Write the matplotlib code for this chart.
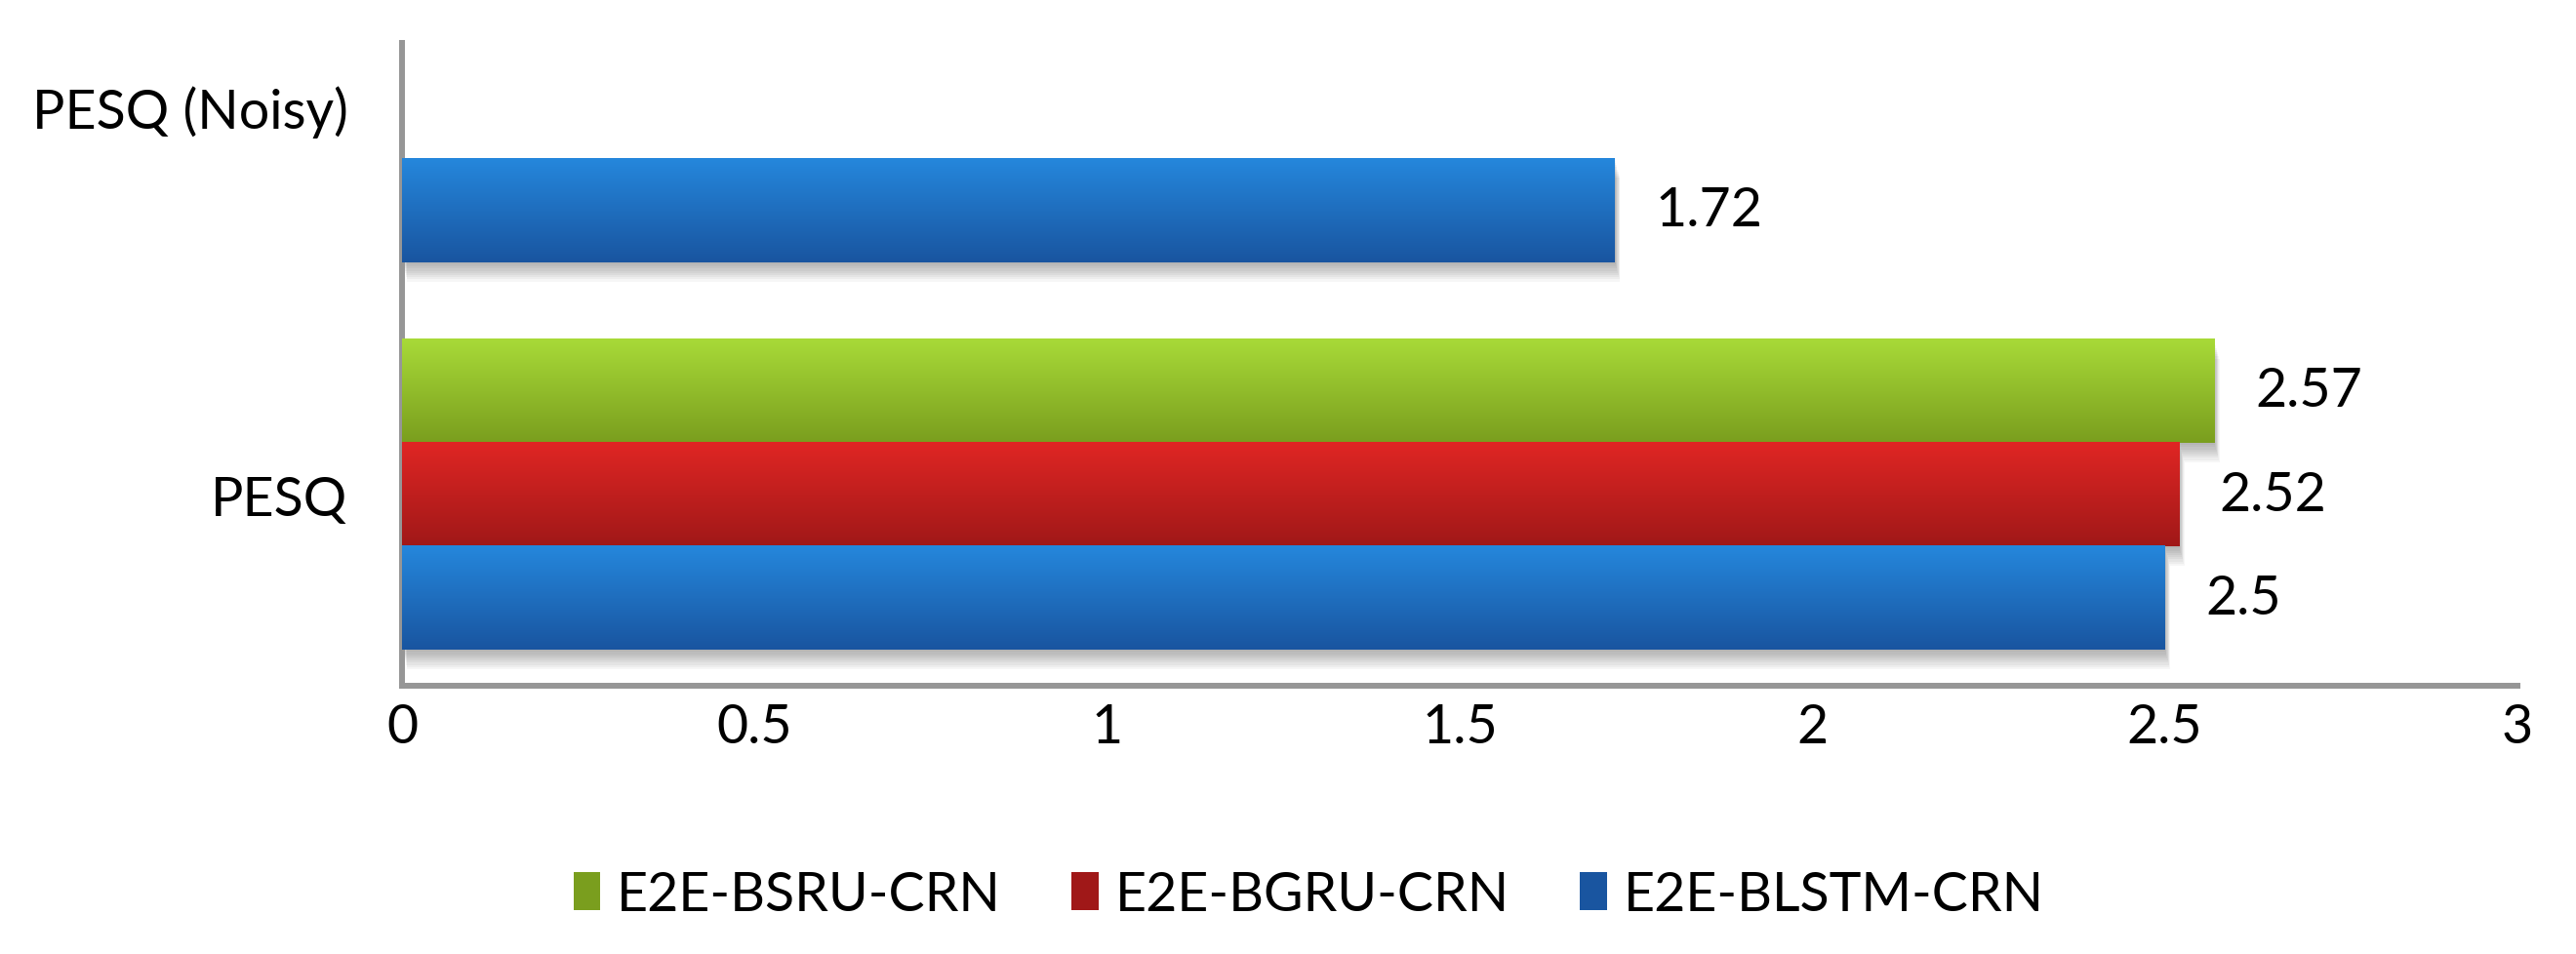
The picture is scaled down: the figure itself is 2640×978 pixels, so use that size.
import numpy as np
import matplotlib
matplotlib.use('Agg')
import matplotlib.pyplot as plt
from matplotlib.colors import LinearSegmentedColormap
from matplotlib.patches import Rectangle, Patch

categories = ['PESQ', 'PESQ (Noisy)']
series = ['E2E-BSRU-CRN', 'E2E-BGRU-CRN', 'E2E-BLSTM-CRN']
bsru = [2.57, np.nan]
bgru = [2.52, np.nan]
blstm = [2.5, 1.72]
xticks = [0, 0.5, 1, 1.5, 2, 2.5, 3]

# gradient colours (top, bottom) for each series
grad = {
    'E2E-BSRU-CRN': ('#A8DA38', '#7A9E1E'),
    'E2E-BGRU-CRN': ('#E02624', '#A01818'),
    'E2E-BLSTM-CRN': ('#2587DC', '#1955A0'),
}

plt.rcParams['font.family'] = ['Lato', 'DejaVu Sans']

fig = plt.figure(figsize=(26.4, 9.79), dpi=100)
ax = fig.add_axes([412 / 2640, 1 - 704 / 979, (2580 - 412) / 2640, (704 - 45) / 979])

h = 0.267
ypos = np.arange(len(categories))
offsets = [h, 0, -h]
px = 1.658 / 659  # data units per pixel (vertical)
pxx = 3.0 / (2580 - 412)

for name, vals, off in zip(series, [bsru, bgru, blstm], offsets):
    bars = ax.barh(ypos + off, vals, height=h, color='none', edgecolor='none', zorder=3)
    top, bot = grad[name]
    cmap = LinearSegmentedColormap.from_list(name, [bot, top])
    for b, v in zip(bars, vals):
        if np.isnan(v):
            continue
        x0, y0 = b.get_x(), b.get_y()
        w, hh = b.get_width(), b.get_height()
        g = np.linspace(0, 1, 128).reshape(-1, 1)
        ax.imshow(g, cmap=cmap, extent=(x0, x0 + w, y0, y0 + hh), origin='lower',
                  aspect='auto', zorder=3, interpolation='bicubic')
        # soft drop shadow
        for k in range(1, 10):
            ax.add_patch(Rectangle((x0 + k * 0.6 * pxx, y0 - k * 2.2 * px), w, hh,
                                   facecolor='black', edgecolor='none', alpha=0.035, zorder=2))
    ax.bar_label(bars, labels=['' if np.isnan(v) else f'{v:g}' for v in vals],
                 padding=30, fontsize=40, zorder=4)

ax.set_xlim(0, 3)
ax.set_ylim(-0.493, 1.165)
ax.set_xticks(xticks)
ax.set_xticklabels([f'{t:g}' for t in xticks])
ax.set_yticks(ypos)
ax.set_yticklabels(categories)
ax.tick_params(axis='both', length=0, labelsize=40)
ax.tick_params(axis='x', pad=12)
ax.tick_params(axis='y', pad=40)
for s in ['top', 'right']:
    ax.spines[s].set_visible(False)
for s in ['left', 'bottom']:
    ax.spines[s].set_color('#969696')
    ax.spines[s].set_linewidth(4.3)

handles = [Patch(facecolor=grad[n][1], edgecolor='none') for n in series]
fig.legend(handles, series, loc='center', bbox_to_anchor=(0.508, 0.062), ncol=3,
           frameon=False, fontsize=40,
           handlelength=0.5, handleheight=0.7, handletextpad=0.3, columnspacing=1.3)

fig.savefig('out.png', dpi=100)
